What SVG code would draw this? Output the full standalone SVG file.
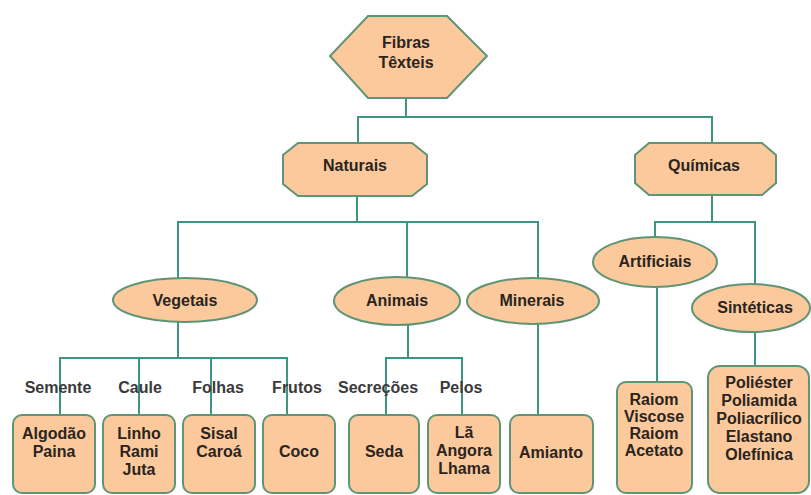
<svg xmlns="http://www.w3.org/2000/svg" width="811" height="495" viewBox="0 0 811 495">
<style>
.n{fill:#FBC99B;stroke:#5F9475;stroke-width:2}
.c{fill:none;stroke:#3F9483;stroke-width:2}
text{font-family:"Liberation Sans",Arial,sans-serif;font-weight:bold;font-size:16px;fill:#2a2420;text-anchor:middle}
.l{fill:#3a3a3a}
</style>
<rect width="811" height="495" fill="#fff"/>
<g id="connectors">
<path class="c" d="M406 98V117M358 143V117H712V143"/>
<path class="c" d="M357 196V222M178 278V222H538V278M407 222V277"/>
<path class="c" d="M712 195V222M655 237V222H755V284"/>
<path class="c" d="M178 322V358M60 415V358H287V415M139 358V415M211 358V415"/>
<path class="c" d="M408 325V358M386 415V358H462V415"/>
<path class="c" d="M538 324V415"/>
<path class="c" d="M657 288V382M755 332V366"/>
</g>
<g id="labels">
<text class="l" x="58" y="393">Semente</text>
<text class="l" x="140" y="393">Caule</text>
<text class="l" x="218" y="393">Folhas</text>
<text class="l" x="297" y="393">Frutos</text>
<text class="l" x="378" y="393">Secreções</text>
<text class="l" x="461" y="393">Pelos</text>
</g>
<g id="fibras">
<polygon class="n" points="368,16 447,16 487,56 447,98 368,98 330,56"/>
<text x="406" y="48">Fibras</text>
<text x="406" y="68">Têxteis</text>
</g>
<g id="naturais">
<polygon class="n" points="298,143 412,143 427,155 427,184 412,196 298,196 283,184 283,155"/>
<text x="355" y="171">Naturais</text>
</g>
<g id="quimicas">
<polygon class="n" points="649,143 762,143 776,155 776,183 762,195 649,195 635,183 635,155"/>
<text x="704" y="171">Químicas</text>
</g>
<g id="vegetais">
<ellipse class="n" cx="185" cy="300" rx="72" ry="22"/>
<text x="185" y="306">Vegetais</text>
</g>
<g id="animais">
<ellipse class="n" cx="397" cy="301" rx="63" ry="24"/>
<text x="397" y="306">Animais</text>
</g>
<g id="minerais">
<ellipse class="n" cx="533" cy="301" rx="66" ry="23"/>
<text x="532" y="306">Minerais</text>
</g>
<g id="artificiais">
<ellipse class="n" cx="655" cy="262" rx="62" ry="25"/>
<text x="655" y="267">Artificiais</text>
</g>
<g id="sinteticas">
<ellipse class="n" cx="751" cy="308" rx="59" ry="24"/>
<text x="755" y="313">Sintéticas</text>
</g>
<g id="semente">
<rect class="n" x="13" y="415" width="82" height="78" rx="9"/>
<text x="54" y="439">Algodão</text>
<text x="54" y="457">Paina</text>
</g>
<g id="caule">
<rect class="n" x="103" y="415" width="72" height="78" rx="9"/>
<text x="139" y="439">Linho</text>
<text x="139" y="457">Rami</text>
<text x="139" y="475">Juta</text>
</g>
<g id="folhas">
<rect class="n" x="183" y="415" width="72" height="78" rx="9"/>
<text x="219" y="439">Sisal</text>
<text x="219" y="457">Caroá</text>
</g>
<g id="frutos">
<rect class="n" x="263" y="415" width="72" height="78" rx="9"/>
<text x="299" y="457">Coco</text>
</g>
<g id="secrecoes">
<rect class="n" x="349" y="415" width="70" height="78" rx="9"/>
<text x="384" y="457">Seda</text>
</g>
<g id="pelos">
<rect class="n" x="428" y="415" width="72" height="78" rx="9"/>
<text x="464" y="438">Lã</text>
<text x="464" y="456">Angora</text>
<text x="464" y="474">Lhama</text>
</g>
<g id="amianto">
<rect class="n" x="510" y="415" width="83" height="78" rx="9"/>
<text x="551" y="458">Amianto</text>
</g>
<g id="artificiais-list">
<rect class="n" x="617" y="382" width="75" height="111" rx="9"/>
<text x="654" y="405">Raiom</text>
<text x="654" y="422">Viscose</text>
<text x="654" y="439">Raiom</text>
<text x="654" y="456">Acetato</text>
</g>
<g id="sinteticas-list">
<rect class="n" x="708" y="366" width="101" height="127" rx="12"/>
<text x="759" y="388">Poliéster</text>
<text x="759" y="406">Poliamida</text>
<text x="759" y="424">Poliacrílico</text>
<text x="759" y="442">Elastano</text>
<text x="759" y="460">Olefínica</text>
</g>
</svg>
